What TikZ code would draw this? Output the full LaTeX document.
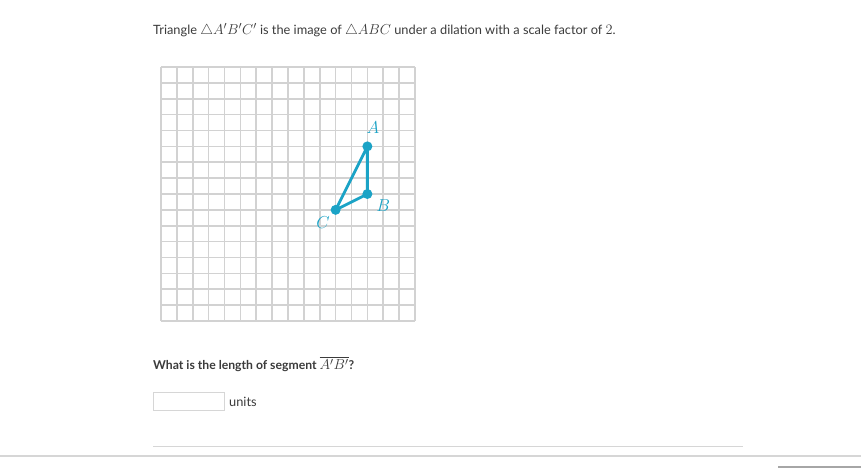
\documentclass[tikz,border=0pt]{standalone}
\usepackage{fontspec}
\setmainfont{Lato}
\usepackage{amsmath,amssymb}
\usepackage{xcolor}
\usepackage{tikz}

\definecolor{ink}{HTML}{3B3B3B}
\definecolor{teal}{HTML}{1BA3C6}
\definecolor{gridgray}{HTML}{D2D2D2}
\definecolor{rulegray}{HTML}{D6D6D6}

% math a bit larger than the text around it
\newcommand{\mth}[1]{{\fontsize{15.5}{16}\selectfont$#1$}}

\tikzset{
 pt/.style={circle, fill=teal, inner sep=0pt, minimum size=10pt},
 lab/.style={text=teal, font=\fontsize{16}{16}\selectfont},
 txt/.style={text=ink, anchor=west, inner sep=0pt, font=\fontsize{12.8}{14}\selectfont}
}

\begin{document}
\begin{tikzpicture}[x=1pt, y=-1pt]
 \useasboundingbox [fill=white] (0,0) rectangle (861,468);
 \node [txt] (intro) at (153,30) {Triangle \mth{\triangle A'B'C'} is the image of \mth{\triangle ABC} under a dilation with a scale factor of \mth{2}.};

 % grid, 16 by 16
 \begin{scope}[shift={(161,321)}, x=15.875pt, y=15.875pt]
  \foreach \i in {0,...,16} {
   \draw [gridgray, line width=1.6pt] (\i,0) -- (\i,16);
   \draw [gridgray, line width=1.6pt] (0,\i) -- (16,\i);
  }
  \node [pt] (A) at (13,11) {};
  \node [pt] (B) at (13,8) {};
  \node [pt] (C) at (11,7) {};
  \draw [teal, line width=2.8pt, line join=round] (A.center) -- (B.center) -- (C.center) -- cycle;
  \node [lab] at (13.35,12.2) {$A$};
  \node [lab] at (14.0,7.3) {$B$};
  \node [lab] at (10.2,6.2) {$C$};
 \end{scope}

 \node [txt, font=\fontsize{12.2}{14}\selectfont\bfseries] (question) at (153,364) {What is the length of segment \mth{\overline{A'B'}}?};
 \node [draw=rulegray, line width=1pt, minimum width=71pt, minimum height=18pt, anchor=north west, inner sep=0pt] (answer) at (153,392) {};
 \node [txt] (units) at ([xshift=4pt]answer.east) {units};

 \draw [rulegray, line width=1pt] (153,446) -- (743,446);
 \draw [rulegray, line width=1.2pt] (0,456) -- (861,456);
 \fill [gray!70] (778,465.5) rectangle (861,468);
\end{tikzpicture}
\end{document}
